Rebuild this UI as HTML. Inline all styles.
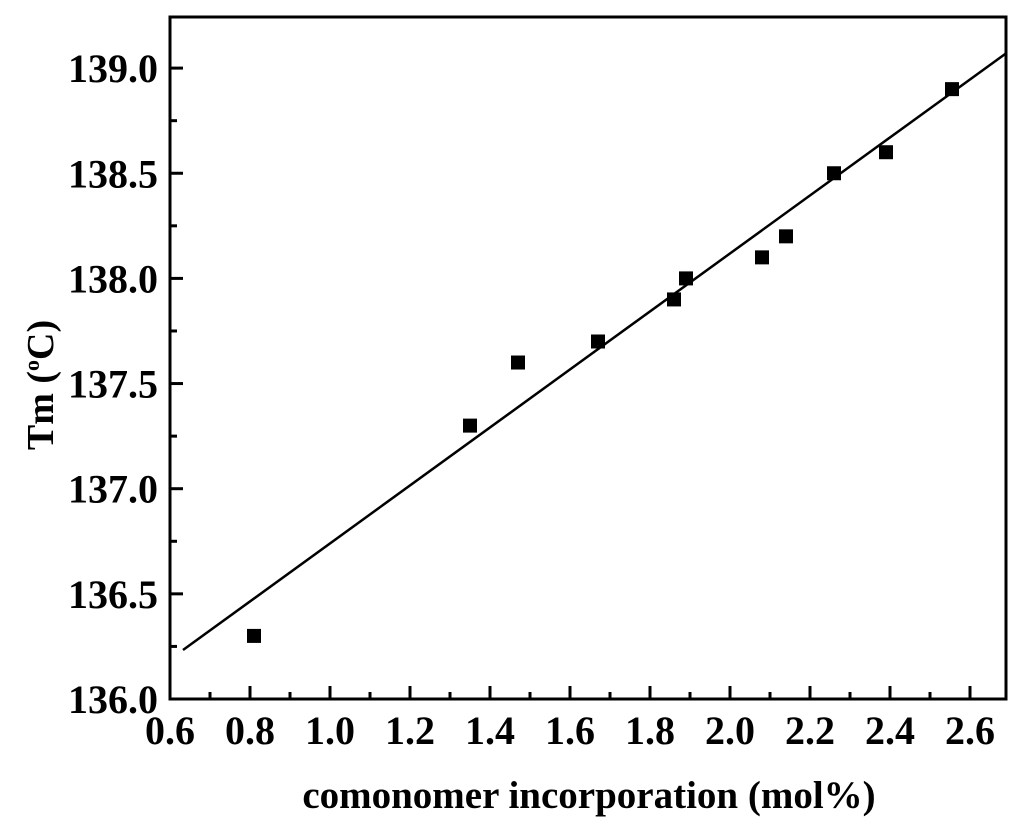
<!DOCTYPE html>
<html><head><meta charset="utf-8"><style>
html,body{margin:0;padding:0;background:#fff;}
svg text{font-family:"Liberation Serif",serif;font-weight:bold;fill:#000;}
</style></head><body>
<svg id="chart" width="1024" height="825" xmlns="http://www.w3.org/2000/svg">
<g id="g"></g>
</svg>
<script>
const xData = [0.81,1.35,1.47,1.67,1.86,1.89,2.08,2.14,2.26,2.39,2.555];
const yData = [136.3,137.3,137.6,137.7,137.9,138.0,138.1,138.2,138.5,138.6,138.9];
const xTicks = [0.6,0.8,1.0,1.2,1.4,1.6,1.8,2.0,2.2,2.4,2.6];
const yTicks = [136.0,136.5,137.0,137.5,138.0,138.5,139.0];
const fitX = [0.6325,2.69];
const fitY = [136.233,139.07];

const L=170,R=1006,T=17,B=699;
const xMin=0.6,xMax=2.69,yMin=136.0,yMax=139.243;
const sx=v=>L+(v-xMin)/(xMax-xMin)*(R-L);
const sy=v=>B-(v-yMin)/(yMax-yMin)*(B-T);
const NS="http://www.w3.org/2000/svg";
const g=document.getElementById('g');
function mk(tag,attrs){const e=document.createElementNS(NS,tag);for(const k in attrs)e.setAttribute(k,attrs[k]);g.appendChild(e);return e;}

let e=mk('rect',{x:L,y:T,width:R-L,height:B-T,fill:'none',stroke:'#000','stroke-width':3});



xTicks.forEach((v,i)=>{
  const x=sx(v);
  let t=mk('line',{x1:x,x2:x,y1:B,y2:B-13,stroke:'#000','stroke-width':3});
  
  
  if(i<xTicks.length-1){
    const xm=sx(v+0.1);
    let m=mk('line',{x1:xm,x2:xm,y1:B,y2:B-7,stroke:'#000','stroke-width':3});
    
    
  }
  let lb=mk('text',{x:x,y:B+45,'text-anchor':'middle','font-size':40});
  lb.textContent=v.toFixed(1);
  
  
});
yTicks.forEach((v,i)=>{
  const y=sy(v);
  let t=mk('line',{x1:L,x2:L+13,y1:y,y2:y,stroke:'#000','stroke-width':3});
  
  
  const ym=sy(v+0.25);
  if(ym>T+2){
    let m=mk('line',{x1:L,x2:L+7,y1:ym,y2:ym,stroke:'#000','stroke-width':3});
    
    
  }
  let lb=mk('text',{x:158,y:y+14,'text-anchor':'end','font-size':40});
  lb.textContent=v.toFixed(1);
  
  
});

let fl=mk('line',{x1:sx(fitX[0]),y1:sy(fitY[0]),x2:sx(fitX[1]),y2:sy(fitY[1]),stroke:'#000','stroke-width':2.5});



xData.forEach((xv,i)=>{
  let p=mk('rect',{x:sx(xv)-7,y:sy(yData[i])-7,width:14,height:14,fill:'#000'});
  
  
});

let xt=mk('text',{x:589,y:808,'text-anchor':'middle','font-size':39});
xt.textContent='comonomer incorporation (mol%)';



let yt=mk('text',{transform:'translate(53,385) rotate(-90)','text-anchor':'middle','font-size':38});
yt.innerHTML='Tm (<tspan font-size="22" dy="-14">o</tspan><tspan dy="14">C)</tspan>';


</script>
</body></html>
